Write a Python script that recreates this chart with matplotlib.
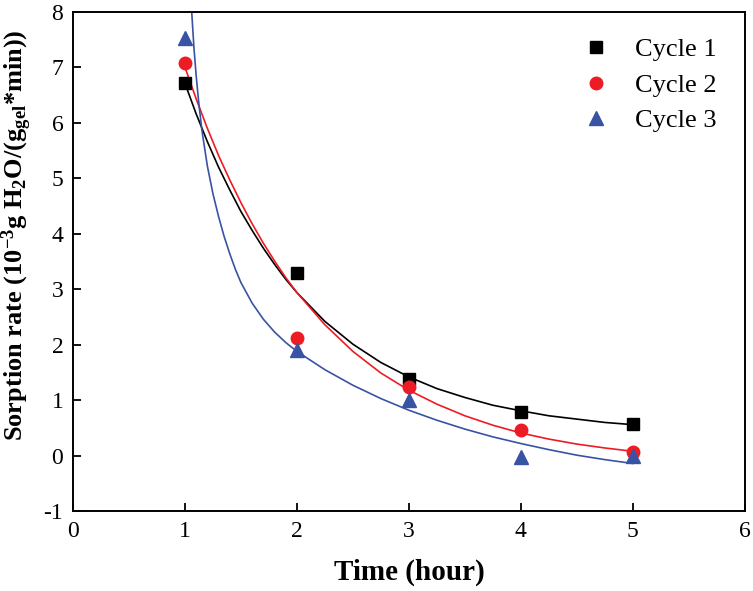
import numpy as np
import matplotlib
matplotlib.use('Agg')
import matplotlib.pyplot as plt

plt.rcParams['font.family'] = 'Liberation Serif'
plt.rcParams['mathtext.fontset'] = 'custom'
plt.rcParams['mathtext.rm'] = 'Liberation Serif:bold'
plt.rcParams['mathtext.it'] = 'Liberation Serif:bold'
plt.rcParams['mathtext.bf'] = 'Liberation Serif:bold'
plt.rcParams['axes.unicode_minus'] = False

# measured points
time_h = [1, 2, 3, 4, 5]
cycle1 = [6.71, 3.30, 1.38, 0.79, 0.57]
cycle2 = [7.07, 2.13, 1.23, 0.46, 0.07]
cycle3 = [7.52, 1.91, 1.00, -0.03, -0.01]

# fitted curves
fit_x = [1.0, 1.1, 1.2, 1.3, 1.4, 1.5, 1.6, 1.7, 1.8, 1.9, 2.0,
         2.25, 2.5, 2.75, 3.0, 3.25, 3.5, 3.75, 4.0, 4.25, 4.5, 4.75, 5.0]
fit1 = [6.71, 6.16, 5.66, 5.20, 4.79, 4.40, 4.06, 3.74, 3.45, 3.18, 2.94,
        2.42, 2.01, 1.68, 1.42, 1.21, 1.05, 0.91, 0.81, 0.72, 0.66, 0.60, 0.56]
fit2 = [7.00, 6.43, 5.90, 5.41, 4.97, 4.56, 4.18, 3.83, 3.51, 3.21, 2.94,
        2.36, 1.88, 1.49, 1.18, 0.93, 0.72, 0.55, 0.41, 0.30, 0.21, 0.14, 0.08]
fit3_x = [1.04, 1.06, 1.08, 1.1, 1.12, 1.15, 1.2, 1.25, 1.3, 1.35, 1.4, 1.45,
          1.5, 1.6, 1.7, 1.8, 1.9, 2.0, 2.25, 2.5, 2.75, 3.0, 3.25, 3.5,
          3.75, 4.0, 4.25, 4.5, 4.75, 5.0]
fit3 = [8.8, 8.0, 7.35, 6.85, 6.42, 5.88, 5.22, 4.72, 4.31, 3.95, 3.64, 3.36,
        3.12, 2.75, 2.46, 2.23, 2.04, 1.88, 1.55, 1.27, 1.03, 0.82, 0.64, 0.48,
        0.34, 0.22, 0.11, 0.01, -0.07, -0.14]

c_black = 'black'
c_red = '#ed1c24'
c_blue = '#3953a4'

fig = plt.figure(figsize=(7.53, 5.91), dpi=100)
ax = fig.add_axes([0.097, 0.135, 0.892, 0.845])

ax.plot(fit_x, fit1, '-', color=c_black, lw=1.2)
ax.plot(fit_x, fit2, '-', color=c_red, lw=1.2)
ax.plot(fit3_x, fit3, '-', color=c_blue, lw=1.2)
ax.plot(time_h, cycle1, 's', color=c_black, ms=8, label='Cycle 1')
ax.plot(time_h, cycle2, 'o', color=c_red, ms=9, label='Cycle 2')
ax.plot(time_h, cycle3, '^', color=c_blue, ms=10, label='Cycle 3')

ax.set_xlim(0, 6)
ax.set_ylim(-1, 8)
ax.set_xticks(range(0, 7))
ax.set_yticks(range(-1, 9))
ax.tick_params(direction='in', length=6, width=1.3, labelsize=17, pad=7)
for s in ax.spines.values():
    s.set_linewidth(1.4)

ax.set_xlabel('Time (hour)', fontsize=21, fontweight='bold', labelpad=12)
ax.set_ylabel(r'Sorption rate (10$^{-3}$g H$_{2}$O/(g$_{gel}$*min))',
              fontsize=19, fontweight='bold')
ax.yaxis.set_label_coords(-0.058, 0.553)

ax.legend(loc='upper right', frameon=False, fontsize=19, handletextpad=0.75,
          labelspacing=0.45, borderaxespad=0.4, handlelength=1.5,
          bbox_to_anchor=(0.99, 0.99))

fig.savefig('out.png', dpi=100)
